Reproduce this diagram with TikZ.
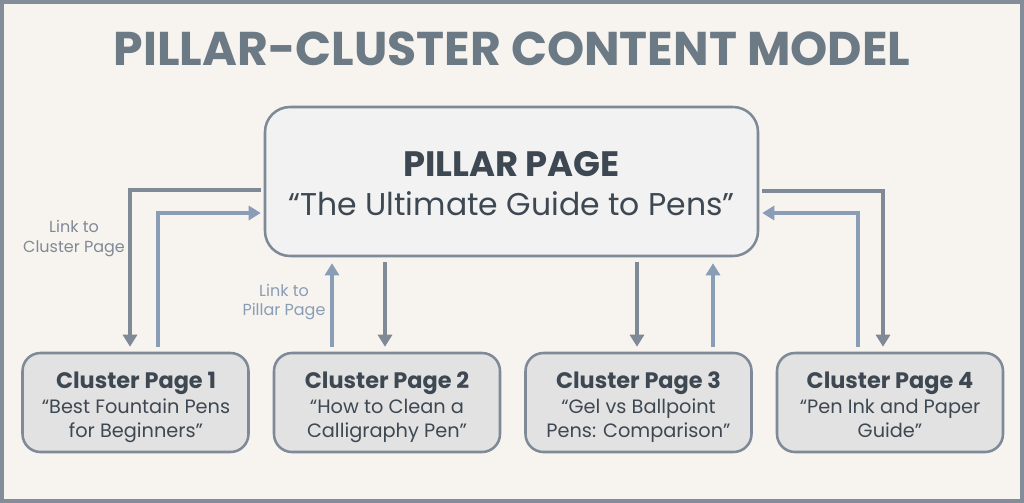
\documentclass[tikz,border=0pt]{standalone}
\usepackage{fontspec}
\setmainfont{Poppins}
\usetikzlibrary{arrows.meta,calc}
\definecolor{bgc}{HTML}{F7F3EF}
\definecolor{framec}{HTML}{828D99}
\definecolor{titlec}{HTML}{6C7A86}
\definecolor{boxline}{HTML}{7E8A97}
\definecolor{pillarfill}{HTML}{F2F2F2}
\definecolor{clusterfill}{HTML}{E2E2E2}
\definecolor{textc}{HTML}{3E4852}
\definecolor{grayarrow}{HTML}{7F8A96}
\definecolor{bluearrow}{HTML}{8A9DB6}
\tikzset{
  pillarbox/.style={draw=boxline, line width=1.9pt, fill=pillarfill, rounded corners=18.75pt,
    minimum width=493*0.75pt, minimum height=149*0.75pt, inner sep=0pt},
  clusterbox/.style={draw=boxline, line width=1.9pt, fill=clusterfill, rounded corners=13.5pt,
    minimum width=226*0.75pt, minimum height=99*0.75pt, inner sep=0pt},
  txt/.style={inner sep=0pt, anchor=base, text=textc},
  ctitle/.style={txt, font=\fontsize{16.8pt}{20pt}\selectfont\bfseries},
  csub/.style={txt, font=\fontsize{14.5pt}{17pt}\selectfont},
  lbl/.style={inner sep=0pt, anchor=base, font=\fontsize{12pt}{14pt}\selectfont},
  ga/.style={draw=grayarrow, line width=2.6pt, -{Triangle[length=9pt,width=10.5pt]}},
  ba/.style={draw=bluearrow, line width=2.6pt, -{Triangle[length=9pt,width=10.5pt]}},
}
\begin{document}
\begin{tikzpicture}[x=0.75pt, y=-0.75pt]
\useasboundingbox (0,0) rectangle (1024,503);
\fill[framec] (0,0) rectangle (1024,503);
\fill[bgc] (4,4) rectangle (1020,499);

\node[inner sep=0pt, anchor=base, text=titlec, font=\fontsize{35.5pt}{40pt}\selectfont\bfseries] (title) at (512,66) {PILLAR-CLUSTER CONTENT MODEL};

\node[pillarbox] (pillar) at (511.5,181.5) {};
\node[txt, font=\fontsize{26.5pt}{30pt}\selectfont\bfseries] (ptitle) at (511.5,176) {PILLAR PAGE};
\node[txt, font=\fontsize{23.6pt}{27pt}\selectfont] (psub) at (511.5,215) {“The Ultimate Guide to Pens”};

\node[clusterbox] (c1) at (135.5,402.5) {};
\node[clusterbox] (c2) at (387,402.5) {};
\node[clusterbox] (c3) at (638.5,402.5) {};
\node[clusterbox] (c4) at (890,402.5) {};

\node[ctitle] (c1t) at (136,388) {Cluster Page 1};
\node[csub] (c1a) at (136,413) {“Best Fountain Pens};
\node[csub] (c1b) at (136,437) {for Beginners”};
\node[ctitle] (c2t) at (387,388) {Cluster Page 2};
\node[csub] (c2a) at (387,413) {“How to Clean a};
\node[csub] (c2b) at (387,437) {Calligraphy Pen”};
\node[ctitle] (c3t) at (638.5,388) {Cluster Page 3};
\node[csub] (c3a) at (638.5,413) {“Gel vs Ballpoint};
\node[csub] (c3b) at (638.5,437) {Pens: Comparison”};
\node[ctitle] (c4t) at (890,388) {Cluster Page 4};
\node[csub] (c4a) at (890,413) {“Pen Ink and Paper};
\node[csub] (c4b) at (890,437) {Guide”};

% left pair
\draw[ga, shorten <=3*0.75pt, shorten >=5*0.75pt] ($(pillar.west)+(0,8.5)$) -| ($(c1.north)+(-5.5,0)$);
\draw[ba, shorten <=5*0.75pt, shorten >=3*0.75pt] ($(c1.north)+(22.5,0)$) |- ($(pillar.west)+(0,31.5)$);
\node[lbl, text=grayarrow] (l1a) at (74,232) {Link to};
\node[lbl, text=grayarrow] (l1b) at (74,252) {Cluster Page};

% middle left pair
\draw[ba, shorten <=5*0.75pt, shorten >=6*0.75pt] ($(c2.north)+(-55,0)$) -- ($(pillar.south)+(-179.5,0)$);
\draw[ga, shorten <=5*0.75pt, shorten >=5*0.75pt] ($(pillar.south)+(-126.5,0)$) -- ($(c2.north)+(-2,0)$);
\node[lbl, text=bluearrow] (l2a) at (284,296) {Link to};
\node[lbl, text=bluearrow] (l2b) at (284,315) {Pillar Page};

% middle right pair
\draw[ga, shorten <=5*0.75pt, shorten >=5*0.75pt] ($(pillar.south)+(125.5,0)$) -- ($(c3.north)+(-1.5,0)$);
\draw[ba, shorten <=5*0.75pt, shorten >=6*0.75pt] ($(c3.north)+(74.5,0)$) -- ($(pillar.south)+(201.5,0)$);

% right pair
\draw[ga, shorten <=3*0.75pt, shorten >=5*0.75pt] ($(pillar.east)+(0,9.5)$) -| ($(c4.north)+(-7,0)$);
\draw[ba, shorten <=5*0.75pt, shorten >=3*0.75pt] ($(c4.north)+(-32,0)$) |- ($(pillar.east)+(0,31.5)$);
\end{tikzpicture}
\end{document}
